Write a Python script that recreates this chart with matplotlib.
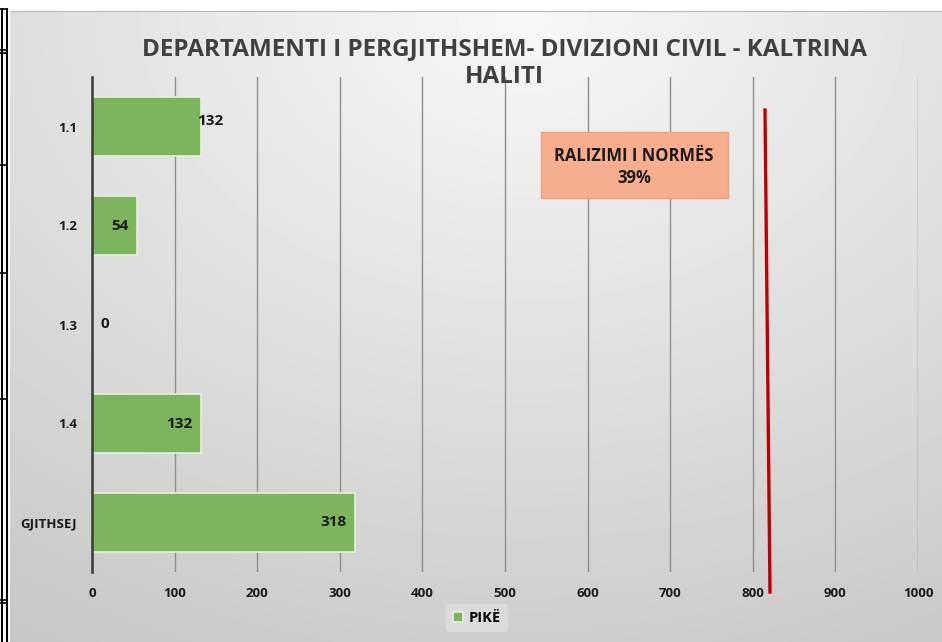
import numpy as np
import matplotlib
matplotlib.use("Agg")
import matplotlib.pyplot as plt
from matplotlib.lines import Line2D
from matplotlib.patches import Rectangle

# data
categories = ["1.1", "1.2", "1.3", "1.4", "GJITHSEJ"]
pike = [132, 54, 0, 132, 318]
x_ticks = [0, 100, 200, 300, 400, 500, 600, 700, 800, 900, 1000]
title = "DEPARTAMENTI I PERGJITHSHEM- DIVIZIONI CIVIL - KALTRINA\nHALITI"
box_text = "RALIZIMI I NORMËS\n39%"
legend_label = "PIKË"

plt.rcParams['font.family'] = ['Open Sans', 'DejaVu Sans']
plt.rcParams['font.weight'] = 'bold'

W, H = 942, 642
fig = plt.figure(figsize=(W / 100, H / 100), dpi=100)
fig.patch.set_facecolor('white')


def fx(px):
    return px / W


def fy(py):
    return 1 - py / H


# gradient background of the chart area
bg = fig.add_axes([fx(10), 0, 1 - fx(10), fy(12)])
gx, gy = np.meshgrid(np.linspace(0, 1, 300), np.linspace(0, 1, 200))
dist = np.sqrt(((gx - 0.55) * 1.0) ** 2 + (gy * 0.9) ** 2)
shade = 0.97 - 0.22 * np.clip(dist, 0, 1.2) / 1.2
bg.imshow(shade, cmap='gray', vmin=0, vmax=1, aspect='auto',
          extent=[0, 1, 1, 0], interpolation='bilinear')
bg.set_axis_off()
bg.set_zorder(0)

# document table borders on the left edge
for x in (2, 7):
    fig.add_artist(Line2D([fx(x), fx(x)], [fy(8), 0.0], color='black', lw=1.5,
                          zorder=10, solid_capstyle='butt'))
for y in (9, 50, 53, 165, 273, 399, 600, 603):
    fig.add_artist(Line2D([fx(0), fx(7)], [fy(y), fy(y)], color='black', lw=1.2, zorder=10))
fig.add_artist(Line2D([fx(10), fx(942)], [fy(11), fy(11)], color='#b8b8b8', lw=0.8))

ax = fig.add_axes([fx(92), fy(572), fx(918) - fx(92), (572 - 77) / H])
ax.set_zorder(1)
ax.patch.set_alpha(0)

y = np.arange(len(categories))
bars = ax.barh(y, pike, height=0.59, color='#7db55c', edgecolor='#e6f0de',
               linewidth=1.2, zorder=3, label=legend_label)

ax.set_xlim(0, 1000)
ax.set_ylim(len(categories) - 0.5, -0.5)
ax.set_xticks(x_ticks)
ax.set_yticks(y)
ax.set_yticklabels(categories)
ax.tick_params(axis='both', length=0, labelsize=9.5, colors='#1a1a1a')
ax.tick_params(axis='x', pad=11)
ax.tick_params(axis='y', pad=11)
for lab in ax.get_xticklabels() + ax.get_yticklabels():
    lab.set_fontweight('bold')

ax.grid(axis='x', color='#8e8e8e', lw=1.0, zorder=1)
ax.set_axisbelow(True)
for s in ('top', 'right', 'bottom'):
    ax.spines[s].set_visible(False)
ax.spines['left'].set_color('#3a3a3a')
ax.spines['left'].set_linewidth(1.8)
ax.spines['left'].set_zorder(4)

# value labels (placed like the original, manually moved in excel)
offsets = [(-3, 4, 'left'), (-6, 0, 'right'), (6, 0, 'left'), (-6, 0, 'right'), (-6, 0, 'right')]
for yi, v, (dx, dy, ha) in zip(y, pike, offsets):
    ax.annotate(str(v), (v, yi), xytext=(dx, dy), textcoords='offset points',
                ha=ha, va='center', fontsize=11, fontweight='bold', color='#1a1a1a',
                zorder=5)

fig.text(fx(504), fy(63), title, ha='center', va='center', fontsize=17.5,
         fontweight='bold', color='#404040', linespacing=1.2)

# norm box
fig.add_artist(Rectangle((fx(541), fy(198)), fx(728) - fx(541), (198 - 132) / H,
                         facecolor='#f6ae8f', edgecolor='#eaa07e', lw=1.0,
                         transform=fig.transFigure, zorder=3))
fig.text(fx(634), fy(167), box_text, ha='center', va='center', fontsize=12,
         fontweight='bold', color='#1a1a1a', linespacing=1.25, zorder=4)

# red norm line
fig.add_artist(Line2D([fx(765), fx(770)], [fy(110), fy(592)], color='#c00000',
                      lw=2.4, zorder=5))

leg = fig.legend(loc='center', bbox_to_anchor=(fx(477), fy(618)), frameon=True,
                 fontsize=10.5, handlelength=0.7, handleheight=0.7, handletextpad=0.4,
                 borderpad=0.5)
leg.get_frame().set_facecolor('#e4e4e4')
leg.get_frame().set_edgecolor('none')
leg.get_frame().set_alpha(0.6)
for t in leg.get_texts():
    t.set_fontweight('bold')

fig.savefig('out.png', dpi=100)
